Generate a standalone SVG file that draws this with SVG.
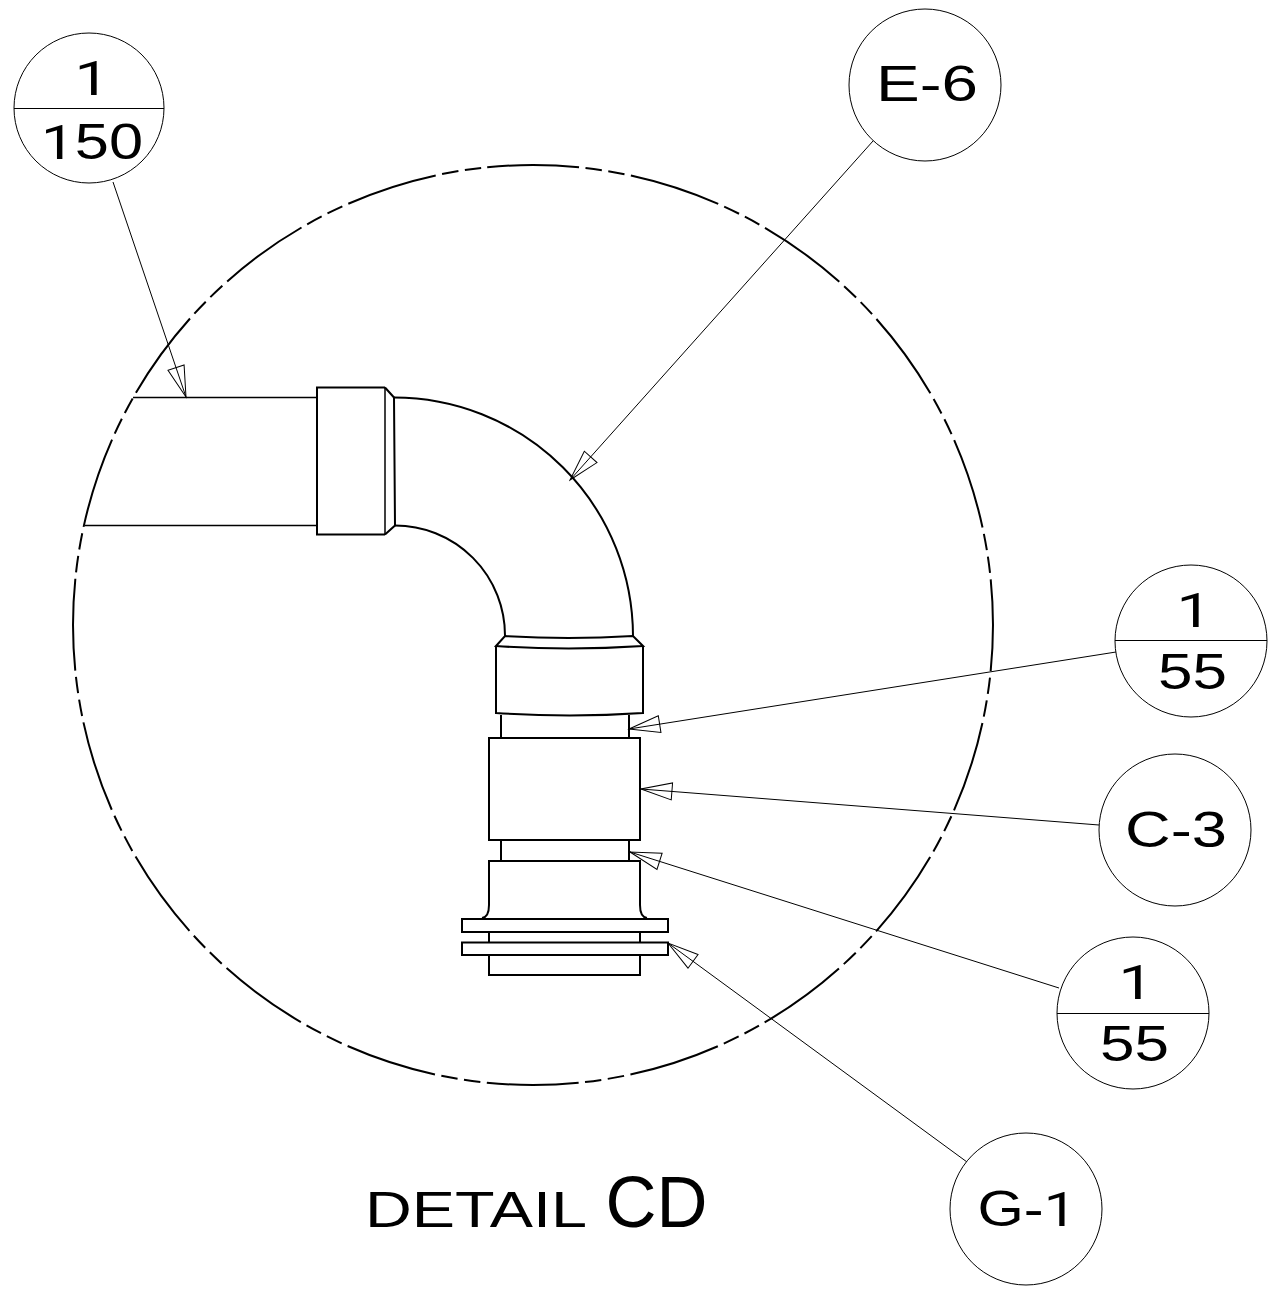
<svg xmlns="http://www.w3.org/2000/svg" width="1274" height="1311" viewBox="0 0 1274 1311">
<style>
.bubble{fill:#fff;stroke:#000;stroke-width:1}
.rule{stroke:#000;stroke-width:1;fill:none}
.part{fill:none;stroke:#000;stroke-width:2}
.thin{fill:none;stroke:#000;stroke-width:1.500}
.leader{fill:none;stroke:#000;stroke-width:1;marker-end:url(#open)}
text{font-family:"Liberation Sans",Arial,sans-serif;fill:#000;font-size:50px;text-anchor:middle}
.one{font-family:Roboto,"Liberation Sans",sans-serif;font-size:49px}
</style>
<defs>
<marker id="open" markerUnits="userSpaceOnUse" markerWidth="34" markerHeight="22" refX="32" refY="11" orient="auto">
<path d="M32 11L1 2.500L1 19.500Z" fill="none" stroke="#000" stroke-width="1"/>
</marker>
</defs>
<rect width="1274" height="1311" fill="#fff"/>
<g id="detail-boundary">
<path class="part" stroke-dasharray="92 6.500 16.500 6.500 16.500 6.500" d="M487.200 167.300A459 459 0 0 1 578.800 1082.700A459 459 0 0 1 487.200 167.300Z"/>
</g>
<g id="pipe">
<path class="thin" d="M133 397.500H317M85 525.500H317"/>
</g>
<g id="elbow">
<path class="part" d="M385 534.500H317V387.500H385"/>
<path class="thin" d="M385 387.500V534.500"/>
<path class="part" d="M385 387.500L394 397.500L395 525.500L385 534.500"/>
<path class="part" d="M394 397.500A239 239 0 0 1 633 636M395 525.500A110 110 0 0 1 505 636"/>
<path class="part" d="M505 636Q568 640 633 636L643 646Q568 651 496 646Z"/>
</g>
<g id="coupling">
<path class="part" d="M496 646V713Q570 718 643 713V646"/>
<path class="part" d="M501 715V738M629 715V738"/>
<rect class="part" x="489" y="738" width="151" height="102"/>
<path class="part" d="M501 840V861M629 840V861"/>
</g>
<g id="flange">
<path class="part" d="M482 918Q489 917 489 905V861H640V905Q640 917 647 918"/>
<rect class="part" x="462" y="919" width="206" height="13"/>
<path class="part" d="M489 932V942M640 932V942"/>
<rect class="part" x="462" y="942.500" width="206" height="12.500"/>
<path class="part" d="M489 955V975H640V955"/>
</g>
<g id="connectors">
<path class="leader" d="M113 182L186 397"/>
<path class="leader" d="M873 141L570 480"/>
<path class="leader" d="M1116 652L629 729"/>
<path class="leader" d="M1099 825L641 789"/>
<path class="leader" d="M1059 988L630 852"/>
<path class="leader" d="M967 1162L668 943"/>
</g>
<g id="callout-1-150">
<circle class="bubble" cx="89" cy="108" r="75"/>
<path class="rule" d="M14 108.500H164"/>
<text class="one" x="92" y="95" textLength="35" lengthAdjust="spacingAndGlyphs">1</text>
<text x="92" y="159" textLength="102" lengthAdjust="spacingAndGlyphs"><tspan class="one">1</tspan>50</text>
</g>
<g id="callout-e-6">
<circle class="bubble" cx="925" cy="85" r="76"/>
<text x="927" y="101" textLength="102" lengthAdjust="spacingAndGlyphs">E-6</text>
</g>
<g id="callout-1-55-a">
<circle class="bubble" cx="1191" cy="641" r="76"/>
<path class="rule" d="M1115 640.500H1267"/>
<text class="one" x="1194" y="627" textLength="35" lengthAdjust="spacingAndGlyphs">1</text>
<text x="1192.500" y="689" textLength="69" lengthAdjust="spacingAndGlyphs">55</text>
</g>
<g id="callout-c-3">
<circle class="bubble" cx="1175" cy="830" r="76"/>
<text x="1176" y="847" textLength="102" lengthAdjust="spacingAndGlyphs">C-3</text>
</g>
<g id="callout-1-55-b">
<circle class="bubble" cx="1133" cy="1013" r="76"/>
<path class="rule" d="M1057 1013.500H1209"/>
<text class="one" x="1136" y="999" textLength="35" lengthAdjust="spacingAndGlyphs">1</text>
<text x="1134.500" y="1061" textLength="69" lengthAdjust="spacingAndGlyphs">55</text>
</g>
<g id="callout-g-1">
<circle class="bubble" cx="1026" cy="1209" r="76"/>
<text x="1027" y="1226" textLength="99" lengthAdjust="spacingAndGlyphs">G-<tspan class="one">1</tspan></text>
</g>
<g id="title">
<text x="476" y="1227" textLength="222" lengthAdjust="spacingAndGlyphs">DETAIL</text>
<text x="656.500" y="1227" style="font-size:72px" textLength="102" lengthAdjust="spacingAndGlyphs">CD</text>
</g>
</svg>
